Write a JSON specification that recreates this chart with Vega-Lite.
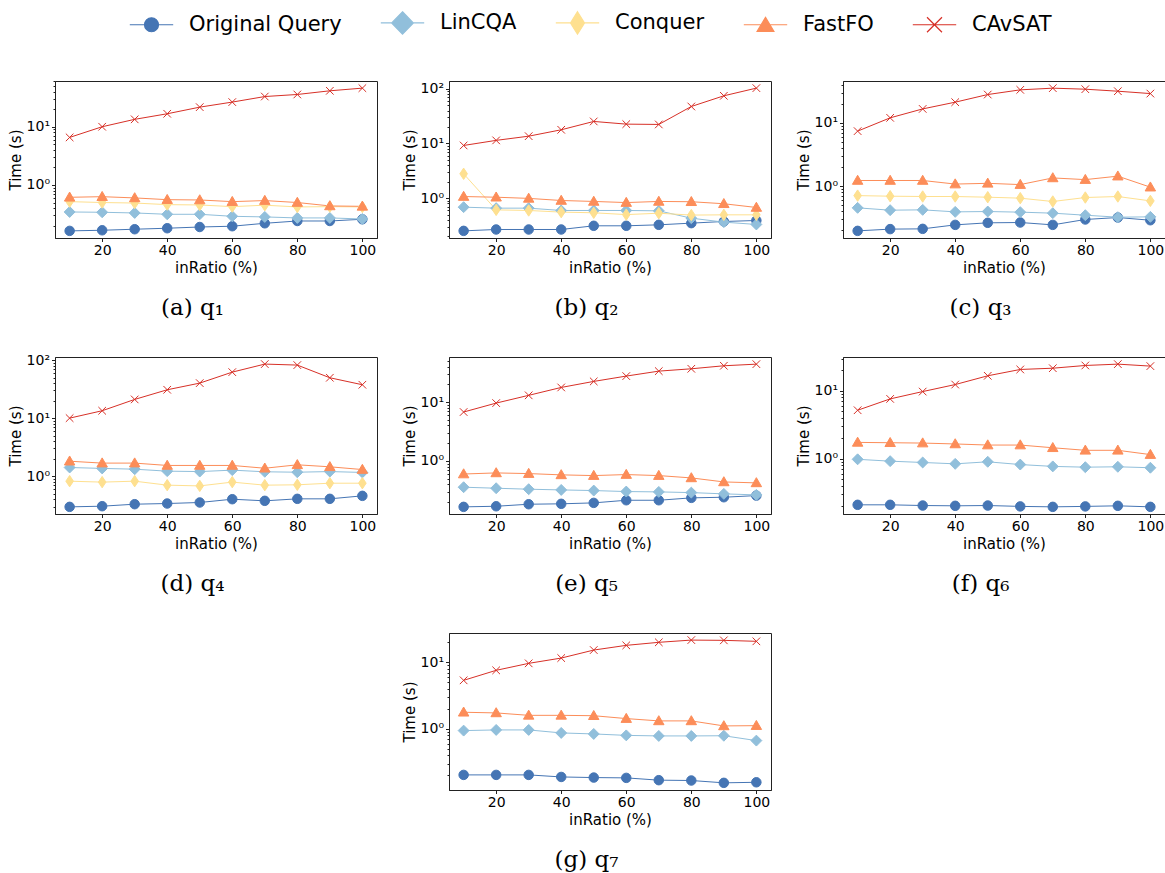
{
"$schema": "https://vega.github.io/schema/vega-lite/v6.json",
"padding": {"left": 7, "top": 12, "right": 0, "bottom": 0},
"background": "white",
"data": {"values": [
{"query":"q1","inRatio":10,"Original Query":0.163,"LinCQA":0.344,"Conquer":0.518,"FastFO":0.615,"CAvSAT":6.56},
{"query":"q1","inRatio":20,"Original Query":0.167,"LinCQA":0.34,"Conquer":0.50,"FastFO":0.63,"CAvSAT":10.0},
{"query":"q1","inRatio":30,"Original Query":0.174,"LinCQA":0.331,"Conquer":0.49,"FastFO":0.60,"CAvSAT":13.4},
{"query":"q1","inRatio":40,"Original Query":0.181,"LinCQA":0.314,"Conquer":0.46,"FastFO":0.56,"CAvSAT":16.7},
{"query":"q1","inRatio":50,"Original Query":0.19,"LinCQA":0.314,"Conquer":0.454,"FastFO":0.553,"CAvSAT":21.7},
{"query":"q1","inRatio":60,"Original Query":0.196,"LinCQA":0.29,"Conquer":0.425,"FastFO":0.518,"CAvSAT":26.5},
{"query":"q1","inRatio":70,"Original Query":0.22,"LinCQA":0.283,"Conquer":0.45,"FastFO":0.54,"CAvSAT":33},
{"query":"q1","inRatio":80,"Original Query":0.241,"LinCQA":0.272,"Conquer":0.42,"FastFO":0.50,"CAvSAT":35.8},
{"query":"q1","inRatio":90,"Original Query":0.241,"LinCQA":0.272,"Conquer":0.425,"FastFO":0.437,"CAvSAT":41.4},
{"query":"q1","inRatio":100,"Original Query":0.258,"LinCQA":0.261,"Conquer":0.42,"FastFO":0.43,"CAvSAT":46},
{"query":"q2","inRatio":10,"Original Query":0.252,"LinCQA":0.684,"Conquer":2.79,"FastFO":1.07,"CAvSAT":9.2},
{"query":"q2","inRatio":20,"Original Query":0.267,"LinCQA":0.656,"Conquer":0.61,"FastFO":1.04,"CAvSAT":11.4},
{"query":"q2","inRatio":30,"Original Query":0.267,"LinCQA":0.656,"Conquer":0.595,"FastFO":0.99,"CAvSAT":13.6},
{"query":"q2","inRatio":40,"Original Query":0.267,"LinCQA":0.595,"Conquer":0.555,"FastFO":0.906,"CAvSAT":17.8},
{"query":"q2","inRatio":50,"Original Query":0.312,"LinCQA":0.595,"Conquer":0.54,"FastFO":0.87,"CAvSAT":25.3},
{"query":"q2","inRatio":60,"Original Query":0.312,"LinCQA":0.595,"Conquer":0.50,"FastFO":0.83,"CAvSAT":22.6},
{"query":"q2","inRatio":70,"Original Query":0.325,"LinCQA":0.586,"Conquer":0.53,"FastFO":0.87,"CAvSAT":22.3},
{"query":"q2","inRatio":80,"Original Query":0.349,"LinCQA":0.43,"Conquer":0.49,"FastFO":0.86,"CAvSAT":47.5},
{"query":"q2","inRatio":90,"Original Query":0.374,"LinCQA":0.364,"Conquer":0.495,"FastFO":0.79,"CAvSAT":74.5},
{"query":"q2","inRatio":100,"Original Query":0.39,"LinCQA":0.33,"Conquer":0.495,"FastFO":0.675,"CAvSAT":103},
{"query":"q3","inRatio":10,"Original Query":0.197,"LinCQA":0.455,"Conquer":0.71,"FastFO":1.23,"CAvSAT":7.4},
{"query":"q3","inRatio":20,"Original Query":0.21,"LinCQA":0.418,"Conquer":0.695,"FastFO":1.23,"CAvSAT":12},
{"query":"q3","inRatio":30,"Original Query":0.212,"LinCQA":0.423,"Conquer":0.687,"FastFO":1.23,"CAvSAT":16.6},
{"query":"q3","inRatio":40,"Original Query":0.245,"LinCQA":0.393,"Conquer":0.687,"FastFO":1.08,"CAvSAT":21.2},
{"query":"q3","inRatio":50,"Original Query":0.264,"LinCQA":0.398,"Conquer":0.67,"FastFO":1.11,"CAvSAT":28},
{"query":"q3","inRatio":60,"Original Query":0.267,"LinCQA":0.389,"Conquer":0.647,"FastFO":1.06,"CAvSAT":33.2},
{"query":"q3","inRatio":70,"Original Query":0.245,"LinCQA":0.375,"Conquer":0.573,"FastFO":1.35,"CAvSAT":35.3},
{"query":"q3","inRatio":80,"Original Query":0.298,"LinCQA":0.348,"Conquer":0.662,"FastFO":1.27,"CAvSAT":34},
{"query":"q3","inRatio":90,"Original Query":0.32,"LinCQA":0.324,"Conquer":0.687,"FastFO":1.44,"CAvSAT":31.6},
{"query":"q3","inRatio":100,"Original Query":0.29,"LinCQA":0.328,"Conquer":0.586,"FastFO":0.965,"CAvSAT":29},
{"query":"q4","inRatio":10,"Original Query":0.296,"LinCQA":1.41,"Conquer":0.82,"FastFO":1.81,"CAvSAT":10},
{"query":"q4","inRatio":20,"Original Query":0.304,"LinCQA":1.36,"Conquer":0.79,"FastFO":1.68,"CAvSAT":13.4},
{"query":"q4","inRatio":30,"Original Query":0.329,"LinCQA":1.32,"Conquer":0.82,"FastFO":1.68,"CAvSAT":21},
{"query":"q4","inRatio":40,"Original Query":0.338,"LinCQA":1.22,"Conquer":0.70,"FastFO":1.53,"CAvSAT":30.8},
{"query":"q4","inRatio":50,"Original Query":0.352,"LinCQA":1.20,"Conquer":0.68,"FastFO":1.53,"CAvSAT":40.1},
{"query":"q4","inRatio":60,"Original Query":0.401,"LinCQA":1.27,"Conquer":0.79,"FastFO":1.53,"CAvSAT":62},
{"query":"q4","inRatio":70,"Original Query":0.376,"LinCQA":1.19,"Conquer":0.70,"FastFO":1.37,"CAvSAT":85.3},
{"query":"q4","inRatio":80,"Original Query":0.407,"LinCQA":1.17,"Conquer":0.71,"FastFO":1.57,"CAvSAT":82},
{"query":"q4","inRatio":90,"Original Query":0.407,"LinCQA":1.20,"Conquer":0.757,"FastFO":1.45,"CAvSAT":49.6},
{"query":"q4","inRatio":100,"Original Query":0.458,"LinCQA":1.16,"Conquer":0.757,"FastFO":1.30,"CAvSAT":37.6},
{"query":"q5","inRatio":10,"Original Query":0.166,"LinCQA":0.358,"FastFO":0.60,"CAvSAT":6.77},
{"query":"q5","inRatio":20,"Original Query":0.17,"LinCQA":0.344,"FastFO":0.626,"CAvSAT":9.6},
{"query":"q5","inRatio":30,"Original Query":0.184,"LinCQA":0.331,"FastFO":0.61,"CAvSAT":13},
{"query":"q5","inRatio":40,"Original Query":0.187,"LinCQA":0.322,"FastFO":0.58,"CAvSAT":17.7},
{"query":"q5","inRatio":50,"Original Query":0.194,"LinCQA":0.314,"FastFO":0.564,"CAvSAT":22.4},
{"query":"q5","inRatio":60,"Original Query":0.215,"LinCQA":0.302,"FastFO":0.587,"CAvSAT":27.6},
{"query":"q5","inRatio":70,"Original Query":0.215,"LinCQA":0.298,"FastFO":0.564,"CAvSAT":33.5},
{"query":"q5","inRatio":80,"Original Query":0.236,"LinCQA":0.29,"FastFO":0.515,"CAvSAT":36.7},
{"query":"q5","inRatio":90,"Original Query":0.242,"LinCQA":0.276,"FastFO":0.44,"CAvSAT":41.3},
{"query":"q5","inRatio":100,"Original Query":0.258,"LinCQA":0.265,"FastFO":0.424,"CAvSAT":44},
{"query":"q6","inRatio":10,"Original Query":0.209,"LinCQA":0.98,"FastFO":1.74,"CAvSAT":5.18},
{"query":"q6","inRatio":20,"Original Query":0.209,"LinCQA":0.92,"FastFO":1.72,"CAvSAT":7.62},
{"query":"q6","inRatio":30,"Original Query":0.204,"LinCQA":0.88,"FastFO":1.70,"CAvSAT":9.77},
{"query":"q6","inRatio":40,"Original Query":0.202,"LinCQA":0.84,"FastFO":1.65,"CAvSAT":12.4},
{"query":"q6","inRatio":50,"Original Query":0.204,"LinCQA":0.90,"FastFO":1.59,"CAvSAT":16.7},
{"query":"q6","inRatio":60,"Original Query":0.198,"LinCQA":0.82,"FastFO":1.59,"CAvSAT":20.7},
{"query":"q6","inRatio":70,"Original Query":0.195,"LinCQA":0.77,"FastFO":1.45,"CAvSAT":21.6},
{"query":"q6","inRatio":80,"Original Query":0.198,"LinCQA":0.75,"FastFO":1.33,"CAvSAT":23.7},
{"query":"q6","inRatio":90,"Original Query":0.202,"LinCQA":0.76,"FastFO":1.33,"CAvSAT":24.8},
{"query":"q6","inRatio":100,"Original Query":0.195,"LinCQA":0.736,"FastFO":1.15,"CAvSAT":23.2},
{"query":"q7","inRatio":10,"Original Query":0.204,"LinCQA":0.944,"FastFO":1.78,"CAvSAT":5.37},
{"query":"q7","inRatio":20,"Original Query":0.204,"LinCQA":0.966,"FastFO":1.74,"CAvSAT":7.59},
{"query":"q7","inRatio":30,"Original Query":0.204,"LinCQA":0.966,"FastFO":1.60,"CAvSAT":9.66},
{"query":"q7","inRatio":40,"Original Query":0.19,"LinCQA":0.871,"FastFO":1.60,"CAvSAT":11.6},
{"query":"q7","inRatio":50,"Original Query":0.186,"LinCQA":0.841,"FastFO":1.58,"CAvSAT":15.3},
{"query":"q7","inRatio":60,"Original Query":0.184,"LinCQA":0.80,"FastFO":1.43,"CAvSAT":18},
{"query":"q7","inRatio":70,"Original Query":0.17,"LinCQA":0.785,"FastFO":1.32,"CAvSAT":20},
{"query":"q7","inRatio":80,"Original Query":0.168,"LinCQA":0.785,"FastFO":1.32,"CAvSAT":21.6},
{"query":"q7","inRatio":90,"Original Query":0.155,"LinCQA":0.79,"FastFO":1.11,"CAvSAT":21.4},
{"query":"q7","inRatio":100,"Original Query":0.158,"LinCQA":0.668,"FastFO":1.12,"CAvSAT":20.7}
]},
"transform": [
 {"fold": ["Original Query","LinCQA","Conquer","FastFO","CAvSAT"], "as": ["method","time"]},
 {"filter": "isValid(datum.time)"}
],
"columns": 3,
"bounds": "flush",
"spacing": {"row": 119, "column": 72},
"concat": [
{
 "width": 322, "height": 157,
 "title": {"text": "(a) q₁"},
 "transform": [{"filter": "datum.query == 'q1'"}],
 "encoding": {
  "x": {"field": "inRatio", "type": "quantitative", "scale": {"domain": [5.5, 104.5], "nice": false, "zero": false}, "axis": {"title": "inRatio (%)", "values": [20,40,60,80,100], "labelFlush": false}},
  "y": {"field": "time", "type": "quantitative", "scale": {"type": "log", "domain": [0.123, 61], "nice": false}, "axis": {"title": "Time (s)", "values": [0.2,0.3,0.4,0.5,0.6,0.7,0.8,0.9,1,2,3,4,5,6,7,8,9,10,20,30,40,50,60], "labelExpr": "datum.value == 1 ? '10⁰' : datum.value == 10 ? '10¹' : datum.value == 100 ? '10²' : ''", "tickSize": {"condition": {"test": "datum.value == 1 || datum.value == 10 || datum.value == 100", "value": 3.5}, "value": 2}, "labelOverlap": false, "labelFlush": false}}
 },
 "layer": [
  {"mark": {"type": "line", "strokeWidth": 1, "opacity": 1}, "encoding": {"color": {"field": "method", "type": "nominal", "scale": {"domain": ["Original Query","LinCQA","Conquer","FastFO","CAvSAT"]}}}},
  {"mark": {"type": "point", "filled": true, "opacity": 1, "size": 90, "strokeWidth": 1, "stroke": {"expr": "scale('color', datum.method)"}, "shape": {"expr": "datum.method == 'Original Query' ? 'circle' : datum.method == 'LinCQA' ? 'M0,-1.15L1.15,0L0,1.15L-1.15,0Z' : datum.method == 'Conquer' ? 'M0,-1.2L0.8,0L0,1.2L-0.8,0Z' : datum.method == 'FastFO' ? 'M0,-1.1L1.1,0.8L-1.1,0.8Z' : 'M-0.8,-0.8L0.8,0.8M-0.8,0.8L0.8,-0.8'"}}, "encoding": {
    "color": {"field": "method", "type": "nominal", "scale": {"domain": ["Original Query","LinCQA","Conquer","FastFO","CAvSAT"]}}
  }},
  {"data": {"values": []},
   "mark": {"type": "point", "filled": true, "opacity": 1},
   "encoding": {
    "color": {"field": "method", "type": "nominal", "scale": {"domain": ["Original Query","LinCQA","Conquer","FastFO","CAvSAT"]}},
    "shape": {"field": "method", "type": "nominal", "scale": {"domain": ["Original Query","LinCQA","Conquer","FastFO","CAvSAT"], "range": [
      "M-1,0A1,1 0 1,1 1,0A1,1 0 1,1 -1,0Z M-3.1,0L-1,0 M1,0L3.1,0",
      "M0,-1.6L1.55,0L0,1.6L-1.55,0Z M-3.1,0L-1.55,0 M1.55,0L3.1,0",
      "M0,-1.6L1,0L0,1.6L-1,0Z M-3.1,0L-1,0 M1,0L3.1,0",
      "M0,-1.05L1.2,0.95L-1.2,0.95Z M-3.1,0L-0.63,0 M0.63,0L3.1,0",
      "M-1.07,-1.07L1.07,1.07M-1.07,1.07L1.07,-1.07M-3.1,0L3.1,0"]}, "legend": {
      "title": null, "orient": "none", "legendX": 86, "legendY": -69, "direction": "horizontal",
      "symbolSize": 196, "symbolStrokeWidth": 1.2, "symbolOpacity": 1,
      "labelFont": "DejaVu Sans", "labelFontSize": 21, "labelColor": "#000", "labelOffset": 27, "columnPadding": 36, "padding": 0
    }}
   }}
 ]
},
{
 "width": 322, "height": 157,
 "title": {"text": "(b) q₂"},
 "transform": [{"filter": "datum.query == 'q2'"}],
 "encoding": {
  "x": {"field": "inRatio", "type": "quantitative", "scale": {"domain": [5.5, 104.5], "nice": false, "zero": false}, "axis": {"title": "inRatio (%)", "values": [20,40,60,80,100], "labelFlush": false}},
  "y": {"field": "time", "type": "quantitative", "scale": {"type": "log", "domain": [0.1866, 139], "nice": false}, "axis": {"title": "Time (s)", "values": [0.2,0.3,0.4,0.5,0.6,0.7,0.8,0.9,1,2,3,4,5,6,7,8,9,10,20,30,40,50,60,70,80,90,100], "labelExpr": "datum.value == 1 ? '10⁰' : datum.value == 10 ? '10¹' : datum.value == 100 ? '10²' : ''", "tickSize": {"condition": {"test": "datum.value == 1 || datum.value == 10 || datum.value == 100", "value": 3.5}, "value": 2}, "labelOverlap": false, "labelFlush": false}}
 },
 "layer": [
  {"mark": {"type": "line", "strokeWidth": 1, "opacity": 1}, "encoding": {"color": {"field": "method", "type": "nominal", "scale": {"domain": ["Original Query","LinCQA","Conquer","FastFO","CAvSAT"]}}}},
  {"mark": {"type": "point", "filled": true, "opacity": 1, "size": 90, "strokeWidth": 1, "stroke": {"expr": "scale('color', datum.method)"}, "shape": {"expr": "datum.method == 'Original Query' ? 'circle' : datum.method == 'LinCQA' ? 'M0,-1.15L1.15,0L0,1.15L-1.15,0Z' : datum.method == 'Conquer' ? 'M0,-1.2L0.8,0L0,1.2L-0.8,0Z' : datum.method == 'FastFO' ? 'M0,-1.1L1.1,0.8L-1.1,0.8Z' : 'M-0.8,-0.8L0.8,0.8M-0.8,0.8L0.8,-0.8'"}}, "encoding": {
    "color": {"field": "method", "type": "nominal", "scale": {"domain": ["Original Query","LinCQA","Conquer","FastFO","CAvSAT"]}}
  }}
 ]
},
{
 "width": 322, "height": 157,
 "title": {"text": "(c) q₃"},
 "transform": [{"filter": "datum.query == 'q3'"}],
 "encoding": {
  "x": {"field": "inRatio", "type": "quantitative", "scale": {"domain": [5.5, 104.5], "nice": false, "zero": false}, "axis": {"title": "inRatio (%)", "values": [20,40,60,80,100], "labelFlush": false}},
  "y": {"field": "time", "type": "quantitative", "scale": {"type": "log", "domain": [0.152, 45.8], "nice": false}, "axis": {"title": "Time (s)", "values": [0.2,0.3,0.4,0.5,0.6,0.7,0.8,0.9,1,2,3,4,5,6,7,8,9,10,20,30,40], "labelExpr": "datum.value == 1 ? '10⁰' : datum.value == 10 ? '10¹' : datum.value == 100 ? '10²' : ''", "tickSize": {"condition": {"test": "datum.value == 1 || datum.value == 10 || datum.value == 100", "value": 3.5}, "value": 2}, "labelOverlap": false, "labelFlush": false}}
 },
 "layer": [
  {"mark": {"type": "line", "strokeWidth": 1, "opacity": 1}, "encoding": {"color": {"field": "method", "type": "nominal", "scale": {"domain": ["Original Query","LinCQA","Conquer","FastFO","CAvSAT"]}}}},
  {"mark": {"type": "point", "filled": true, "opacity": 1, "size": 90, "strokeWidth": 1, "stroke": {"expr": "scale('color', datum.method)"}, "shape": {"expr": "datum.method == 'Original Query' ? 'circle' : datum.method == 'LinCQA' ? 'M0,-1.15L1.15,0L0,1.15L-1.15,0Z' : datum.method == 'Conquer' ? 'M0,-1.2L0.8,0L0,1.2L-0.8,0Z' : datum.method == 'FastFO' ? 'M0,-1.1L1.1,0.8L-1.1,0.8Z' : 'M-0.8,-0.8L0.8,0.8M-0.8,0.8L0.8,-0.8'"}}, "encoding": {
    "color": {"field": "method", "type": "nominal", "scale": {"domain": ["Original Query","LinCQA","Conquer","FastFO","CAvSAT"]}}
  }}
 ]
},
{
 "width": 322, "height": 157,
 "title": {"text": "(d) q₄"},
 "transform": [{"filter": "datum.query == 'q4'"}],
 "encoding": {
  "x": {"field": "inRatio", "type": "quantitative", "scale": {"domain": [5.5, 104.5], "nice": false, "zero": false}, "axis": {"title": "inRatio (%)", "values": [20,40,60,80,100], "labelFlush": false}},
  "y": {"field": "time", "type": "quantitative", "scale": {"type": "log", "domain": [0.223, 113], "nice": false}, "axis": {"title": "Time (s)", "values": [0.3,0.4,0.5,0.6,0.7,0.8,0.9,1,2,3,4,5,6,7,8,9,10,20,30,40,50,60,70,80,90,100], "labelExpr": "datum.value == 1 ? '10⁰' : datum.value == 10 ? '10¹' : datum.value == 100 ? '10²' : ''", "tickSize": {"condition": {"test": "datum.value == 1 || datum.value == 10 || datum.value == 100", "value": 3.5}, "value": 2}, "labelOverlap": false, "labelFlush": false}}
 },
 "layer": [
  {"mark": {"type": "line", "strokeWidth": 1, "opacity": 1}, "encoding": {"color": {"field": "method", "type": "nominal", "scale": {"domain": ["Original Query","LinCQA","Conquer","FastFO","CAvSAT"]}}}},
  {"mark": {"type": "point", "filled": true, "opacity": 1, "size": 90, "strokeWidth": 1, "stroke": {"expr": "scale('color', datum.method)"}, "shape": {"expr": "datum.method == 'Original Query' ? 'circle' : datum.method == 'LinCQA' ? 'M0,-1.15L1.15,0L0,1.15L-1.15,0Z' : datum.method == 'Conquer' ? 'M0,-1.2L0.8,0L0,1.2L-0.8,0Z' : datum.method == 'FastFO' ? 'M0,-1.1L1.1,0.8L-1.1,0.8Z' : 'M-0.8,-0.8L0.8,0.8M-0.8,0.8L0.8,-0.8'"}}, "encoding": {
    "color": {"field": "method", "type": "nominal", "scale": {"domain": ["Original Query","LinCQA","Conquer","FastFO","CAvSAT"]}}
  }}
 ]
},
{
 "width": 322, "height": 157,
 "title": {"text": "(e) q₅"},
 "transform": [{"filter": "datum.query == 'q5'"}],
 "encoding": {
  "x": {"field": "inRatio", "type": "quantitative", "scale": {"domain": [5.5, 104.5], "nice": false, "zero": false}, "axis": {"title": "inRatio (%)", "values": [20,40,60,80,100], "labelFlush": false}},
  "y": {"field": "time", "type": "quantitative", "scale": {"type": "log", "domain": [0.1256, 58.2], "nice": false}, "axis": {"title": "Time (s)", "values": [0.2,0.3,0.4,0.5,0.6,0.7,0.8,0.9,1,2,3,4,5,6,7,8,9,10,20,30,40,50], "labelExpr": "datum.value == 1 ? '10⁰' : datum.value == 10 ? '10¹' : datum.value == 100 ? '10²' : ''", "tickSize": {"condition": {"test": "datum.value == 1 || datum.value == 10 || datum.value == 100", "value": 3.5}, "value": 2}, "labelOverlap": false, "labelFlush": false}}
 },
 "layer": [
  {"mark": {"type": "line", "strokeWidth": 1, "opacity": 1}, "encoding": {"color": {"field": "method", "type": "nominal", "scale": {"domain": ["Original Query","LinCQA","Conquer","FastFO","CAvSAT"]}}}},
  {"mark": {"type": "point", "filled": true, "opacity": 1, "size": 90, "strokeWidth": 1, "stroke": {"expr": "scale('color', datum.method)"}, "shape": {"expr": "datum.method == 'Original Query' ? 'circle' : datum.method == 'LinCQA' ? 'M0,-1.15L1.15,0L0,1.15L-1.15,0Z' : datum.method == 'Conquer' ? 'M0,-1.2L0.8,0L0,1.2L-0.8,0Z' : datum.method == 'FastFO' ? 'M0,-1.1L1.1,0.8L-1.1,0.8Z' : 'M-0.8,-0.8L0.8,0.8M-0.8,0.8L0.8,-0.8'"}}, "encoding": {
    "color": {"field": "method", "type": "nominal", "scale": {"domain": ["Original Query","LinCQA","Conquer","FastFO","CAvSAT"]}}
  }}
 ]
},
{
 "width": 322, "height": 157,
 "title": {"text": "(f) q₆"},
 "transform": [{"filter": "datum.query == 'q6'"}],
 "encoding": {
  "x": {"field": "inRatio", "type": "quantitative", "scale": {"domain": [5.5, 104.5], "nice": false, "zero": false}, "axis": {"title": "inRatio (%)", "values": [20,40,60,80,100], "labelFlush": false}},
  "y": {"field": "time", "type": "quantitative", "scale": {"type": "log", "domain": [0.153, 31.6], "nice": false}, "axis": {"title": "Time (s)", "values": [0.2,0.3,0.4,0.5,0.6,0.7,0.8,0.9,1,2,3,4,5,6,7,8,9,10,20,30], "labelExpr": "datum.value == 1 ? '10⁰' : datum.value == 10 ? '10¹' : datum.value == 100 ? '10²' : ''", "tickSize": {"condition": {"test": "datum.value == 1 || datum.value == 10 || datum.value == 100", "value": 3.5}, "value": 2}, "labelOverlap": false, "labelFlush": false}}
 },
 "layer": [
  {"mark": {"type": "line", "strokeWidth": 1, "opacity": 1}, "encoding": {"color": {"field": "method", "type": "nominal", "scale": {"domain": ["Original Query","LinCQA","Conquer","FastFO","CAvSAT"]}}}},
  {"mark": {"type": "point", "filled": true, "opacity": 1, "size": 90, "strokeWidth": 1, "stroke": {"expr": "scale('color', datum.method)"}, "shape": {"expr": "datum.method == 'Original Query' ? 'circle' : datum.method == 'LinCQA' ? 'M0,-1.15L1.15,0L0,1.15L-1.15,0Z' : datum.method == 'Conquer' ? 'M0,-1.2L0.8,0L0,1.2L-0.8,0Z' : datum.method == 'FastFO' ? 'M0,-1.1L1.1,0.8L-1.1,0.8Z' : 'M-0.8,-0.8L0.8,0.8M-0.8,0.8L0.8,-0.8'"}}, "encoding": {
    "color": {"field": "method", "type": "nominal", "scale": {"domain": ["Original Query","LinCQA","Conquer","FastFO","CAvSAT"]}}
  }}
 ]
},
{
 "width": 322, "height": 157,
 "data": {"values": []},
 "mark": {"type": "point", "opacity": 0},
 "encoding": {},
 "view": {"stroke": null}
},
{
 "width": 322, "height": 157,
 "title": {"text": "(g) q₇"},
 "transform": [{"filter": "datum.query == 'q7'"}],
 "encoding": {
  "x": {"field": "inRatio", "type": "quantitative", "scale": {"domain": [5.5, 104.5], "nice": false, "zero": false}, "axis": {"title": "inRatio (%)", "values": [20,40,60,80,100], "labelFlush": false}},
  "y": {"field": "time", "type": "quantitative", "scale": {"type": "log", "domain": [0.121, 27.6], "nice": false}, "axis": {"title": "Time (s)", "values": [0.2,0.3,0.4,0.5,0.6,0.7,0.8,0.9,1,2,3,4,5,6,7,8,9,10,20], "labelExpr": "datum.value == 1 ? '10⁰' : datum.value == 10 ? '10¹' : datum.value == 100 ? '10²' : ''", "tickSize": {"condition": {"test": "datum.value == 1 || datum.value == 10 || datum.value == 100", "value": 3.5}, "value": 2}, "labelOverlap": false, "labelFlush": false}}
 },
 "layer": [
  {"mark": {"type": "line", "strokeWidth": 1, "opacity": 1}, "encoding": {"color": {"field": "method", "type": "nominal", "scale": {"domain": ["Original Query","LinCQA","Conquer","FastFO","CAvSAT"]}}}},
  {"mark": {"type": "point", "filled": true, "opacity": 1, "size": 90, "strokeWidth": 1, "stroke": {"expr": "scale('color', datum.method)"}, "shape": {"expr": "datum.method == 'Original Query' ? 'circle' : datum.method == 'LinCQA' ? 'M0,-1.15L1.15,0L0,1.15L-1.15,0Z' : datum.method == 'Conquer' ? 'M0,-1.2L0.8,0L0,1.2L-0.8,0Z' : datum.method == 'FastFO' ? 'M0,-1.1L1.1,0.8L-1.1,0.8Z' : 'M-0.8,-0.8L0.8,0.8M-0.8,0.8L0.8,-0.8'"}}, "encoding": {
    "color": {"field": "method", "type": "nominal", "scale": {"domain": ["Original Query","LinCQA","Conquer","FastFO","CAvSAT"]}}
  }}
 ]
}
],
"config": {
 "font": "DejaVu Sans",
 "range": {
  "category": ["#4575b4", "#91bfdb", "#fee090", "#fc8d59", "#d73027"]
 },
 "view": {"stroke": "#222", "strokeWidth": 1},
 "axis": {"domainColor": "#222", "tickColor": "#222", "labelColor": "#000", "titleColor": "#000", "labelFont": "DejaVu Sans", "titleFont": "DejaVu Sans", "labelFontSize": 14, "titleFontSize": 15, "titleFontWeight": "normal", "grid": false, "tickSize": 3.5, "labelPadding": 2, "titlePadding": 3},
 "title": {"orient": "bottom", "font": "DejaVu Serif", "fontSize": 23, "fontWeight": "normal", "color": "#000", "offset": 21, "anchor": "middle", "frame": "bounds"}
}
}
